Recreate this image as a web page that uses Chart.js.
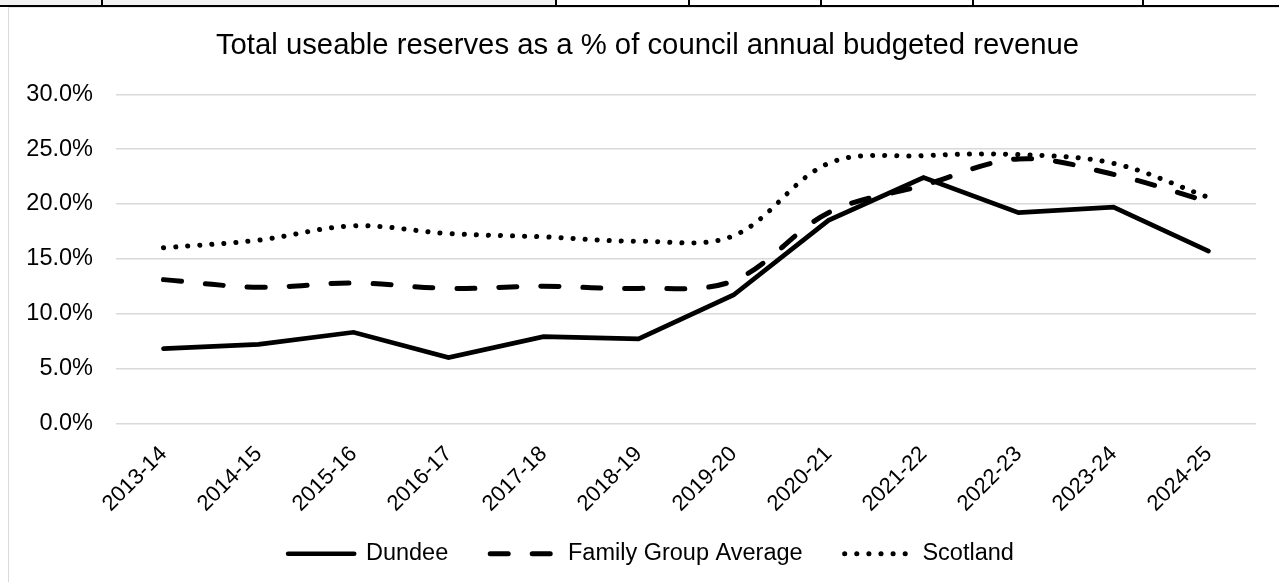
<!DOCTYPE html>
<html>
<head>
<meta charset="utf-8">
<script src="https://cdn.jsdelivr.net/npm/chart.js@4/dist/chart.umd.min.js"></script>
<style>
    body { margin: 0; width: 1279px; height: 582px; overflow: hidden; background: #fff; font-family: 'Liberation Sans', Arial, sans-serif; }
    .tableRow { position: absolute; left: 0; top: 0; width: 1279px; height: 5px; border-bottom: 2px solid #000; }
    .cell { position: absolute; top: 0; height: 5px; border-right: 2px solid #000; overflow: hidden; }
    .cell.grey { background: #f2f2f2; }
    .cellText { position: absolute; top: -22px; font-size: 20px; color: #444; }
    .frame { position: absolute; left: 8px; top: 7px; width: 1300px; height: 600px; border-left: 1px solid #d9d9d9; border-top: 1px solid #e6e6e6; }
    #chartBox { position: absolute; left: 9px; top: 8px; width: 1270px; height: 574px; }
</style>
</head>
<body>
<div class="tableRow">
    <div class="cell grey" style="left:0;width:101px"></div>
    <div class="cell grey" style="left:103px;width:452px"><span class="cellText" style="left:238px">g</span></div>
    <div class="cell" style="left:557px;width:131px"></div>
    <div class="cell" style="left:690px;width:130px"></div>
    <div class="cell" style="left:822px;width:150px"></div>
    <div class="cell" style="left:974px;width:168px"></div>
</div>
<div class="frame"></div>
<div id="chartBox"><canvas id="reservesChart"></canvas></div>
<script>
// years on the x axis
const categories = ['2013-14', '2014-15', '2015-16', '2016-17', '2017-18', '2018-19',
    '2019-20', '2020-21', '2021-22', '2022-23', '2023-24', '2024-25'];

// % of annual budgeted revenue
const dundee = [6.8, 7.2, 8.3, 6.0, 7.9, 7.7, 11.7, 18.5, 22.4, 19.2, 19.7, 15.7];
const familyGroup = [13.1, 12.4, 12.8, 12.3, 12.5, 12.3, 13.0, 19.2, 21.7, 24.1, 22.7, 20.2];
const scotland = [16.0, 16.7, 18.0, 17.3, 17.0, 16.6, 17.1, 23.7, 24.4, 24.5, 23.7, 20.6];

const Y_MIN = 0;
const Y_MAX = 30;
const Y_STEP = 5;

const FONT = "'Liberation Sans', Arial, sans-serif";
const TEXT_COLOR = '#000';

// boxes that Chart.js can't place where the original has them
const LEGEND_TOP = 492;
const LEGEND_SHIFT_X = 18.5;
const TITLE_SHIFT_X = 15;

Chart.defaults.font.family = FONT;
Chart.defaults.color = TEXT_COLOR;

const shiftBoxes = {
    id: 'shiftBoxes',
    afterLayout(chart) {
        const legend = chart.legend;
        legend.left += LEGEND_SHIFT_X;
        legend.right += LEGEND_SHIFT_X;
        legend.top = LEGEND_TOP;
        legend.bottom = chart.height;
        legend.height = chart.height - LEGEND_TOP;
        const title = chart.titleBlock;
        title.left += TITLE_SHIFT_X;
        title.right += TITLE_SHIFT_X;
    }
};

function lineLegendLabels(chart) {
    const items = Chart.defaults.plugins.legend.labels.generateLabels(chart);
    items.forEach(item => {
        const dataset = chart.data.datasets[item.datasetIndex];
        item.lineDash = dataset.borderDash || [];
        item.lineWidth = dataset.borderWidth;
        item.lineCap = 'round';
        item.strokeStyle = dataset.borderColor;
    });
    return items;
}

const canvas = document.querySelector('#reservesChart');
const chart = new Chart(canvas, {
    type: 'line',
    data: {
        labels: categories,
        datasets: [
            {
                label: 'Dundee',
                data: dundee,
                borderColor: '#000',
                backgroundColor: '#000',
                borderWidth: 4.7,
                borderCapStyle: 'round',
                borderJoinStyle: 'miter',
                tension: 0,
                pointRadius: 0
            },
            {
                label: 'Family Group Average',
                data: familyGroup,
                borderColor: '#000',
                backgroundColor: '#000',
                borderWidth: 5,
                borderDash: [18, 24],
                borderCapStyle: 'round',
                tension: 0.35,
                pointRadius: 0
            },
            {
                label: 'Scotland',
                data: scotland,
                borderColor: '#000',
                backgroundColor: '#000',
                borderWidth: 5,
                borderDash: [0.1, 12],
                borderCapStyle: 'round',
                tension: 0.35,
                pointRadius: 0
            }
        ]
    },
    options: {
        responsive: true,
        maintainAspectRatio: false,
        animation: false,
        layout: {
            padding: { left: 0, right: 23, top: 0, bottom: 0 }
        },
        plugins: {
            title: {
                display: true,
                text: 'Total useable reserves as a % of council annual budgeted revenue',
                color: TEXT_COLOR,
                font: { size: 29.3, weight: 'normal' },
                padding: { top: 19.9, bottom: 31.2 }
            },
            legend: {
                position: 'bottom',
                maxHeight: 60,
                labels: {
                    usePointStyle: true,
                    pointStyle: 'line',
                    pointStyleWidth: 66,
                    padding: 42,
                    color: TEXT_COLOR,
                    font: { size: 23.5 },
                    generateLabels: lineLegendLabels
                }
            },
            tooltip: { enabled: false }
        },
        scales: {
            x: {
                offset: true,
                grid: { display: false, drawTicks: false },
                border: { display: false },
                ticks: {
                    minRotation: 45,
                    maxRotation: 45,
                    padding: 18,
                    color: TEXT_COLOR,
                    font: { size: 22 }
                },
                afterFit: (scale) => { scale.height = 98.7; }
            },
            y: {
                min: Y_MIN,
                max: Y_MAX,
                grid: { color: '#d9d9d9', lineWidth: 1.5, drawTicks: false },
                border: { display: false },
                ticks: {
                    stepSize: Y_STEP,
                    padding: 23,
                    color: TEXT_COLOR,
                    font: { size: 23.5 },
                    callback: (value) => value.toFixed(1) + '%'
                },
                afterFit: (scale) => { scale.width = 107; }
            }
        }
    },
    plugins: [shiftBoxes]
});
</script>
</body>
</html>
